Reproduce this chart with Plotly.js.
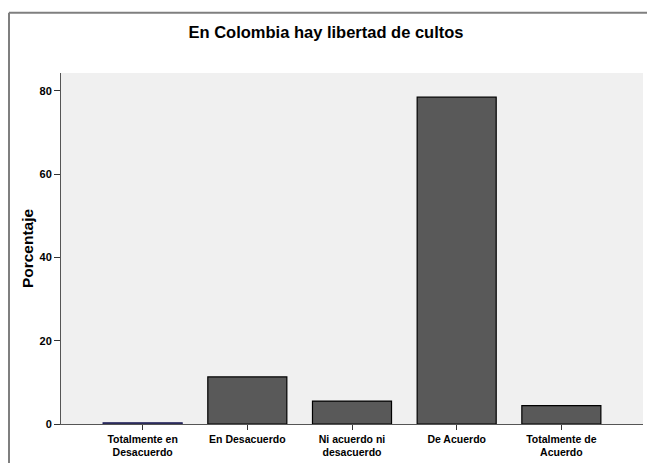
<!DOCTYPE html>
<html>
<head>
<meta charset="utf-8">
<script src="https://cdn.plot.ly/plotly-3.0.1.min.js"></script>
<style>html,body{margin:0;padding:0;background:#fff;overflow:hidden;width:647px;height:463px;}#chart{position:absolute;left:0;top:0;width:647px;height:463px;overflow:hidden;}</style>
</head>
<body>
<div id="chart"></div>
<script>
const categories = ["Totalmente en<br>Desacuerdo", "En Desacuerdo", "Ni acuerdo ni<br>desacuerdo", "De Acuerdo", "Totalmente de<br>Acuerdo"];
const porcentaje = [0.3, 11.3, 5.5, 78.5, 4.4];
const yTicks = [0, 20, 40, 60, 80];
const barLineColors = ["#1c1c5a", "#000000", "#000000", "#000000", "#000000"];

const trace = {
  type: "bar",
  x: [0, 1, 2, 3, 4],
  y: porcentaje,
  marker: { color: "#595959", line: { color: barLineColors, width: 1.2 } },
  hoverinfo: "none"
};

const topY = (463 - 12.7 - 39) / 351;
const leftX = -52 / 582;
const rightX = (647 - 61) / 582;
const bottomY = -39 / 351;

const layout = {
  width: 647, height: 463,
  margin: { l: 61, r: 4, t: 73, b: 39, pad: 0 },
  paper_bgcolor: "#ffffff",
  plot_bgcolor: "#f0f0f0",
  bargap: 0.245,
  showlegend: false,
  font: { family: "Liberation Sans, Arial, sans-serif", color: "#000" },
  title: {
    text: "<b>En Colombia hay libertad de cultos</b>",
    font: { size: 16.5, family: "Liberation Sans, Arial, sans-serif", color: "#000" },
    x: 326 / 647, xanchor: "center", xref: "container",
    y: 1 - 32 / 463, yanchor: "middle", yref: "container"
  },
  xaxis: {
    range: [-0.78, 4.78],
    tickmode: "array",
    tickvals: [0, 1, 2, 3, 4],
    ticktext: categories,
    ticks: "outside", ticklen: 5, tickwidth: 1, tickcolor: "#333",
    showline: true, linecolor: "#555", linewidth: 1,
    showgrid: false, zeroline: false,
    tickfont: { size: 10.5, family: "Liberation Sans, Arial, sans-serif", weight: "bold", color: "#000" },
    fixedrange: true
  },
  yaxis: {
    range: [0, 84.3],
    tickmode: "array",
    tickvals: yTicks,
    ticktext: yTicks.map(String),
    ticks: "outside", ticklen: 6, tickwidth: 1, tickcolor: "#333",
    showline: true, linecolor: "#555", linewidth: 1,
    showgrid: false, zeroline: false,
    tickfont: { size: 11, family: "Liberation Sans, Arial, sans-serif", weight: "bold", color: "#000" },
    title: { text: "<b>Porcentaje</b>", font: { size: 15.5, family: "Liberation Sans, Arial, sans-serif", color: "#000" }, standoff: 2 },
    fixedrange: true
  },
  shapes: [
    { type: "line", xref: "paper", yref: "paper", x0: leftX, x1: rightX, y0: topY, y1: topY,
      line: { color: "#7f7f7f", width: 2 }, layer: "below" },
    { type: "line", xref: "paper", yref: "paper", x0: leftX, x1: leftX, y0: bottomY, y1: topY,
      line: { color: "#7f7f7f", width: 2 }, layer: "below" }
  ]
};

Plotly.newPlot("chart", [trace], layout, { displayModeBar: false, staticPlot: true });
</script>
</body>
</html>
